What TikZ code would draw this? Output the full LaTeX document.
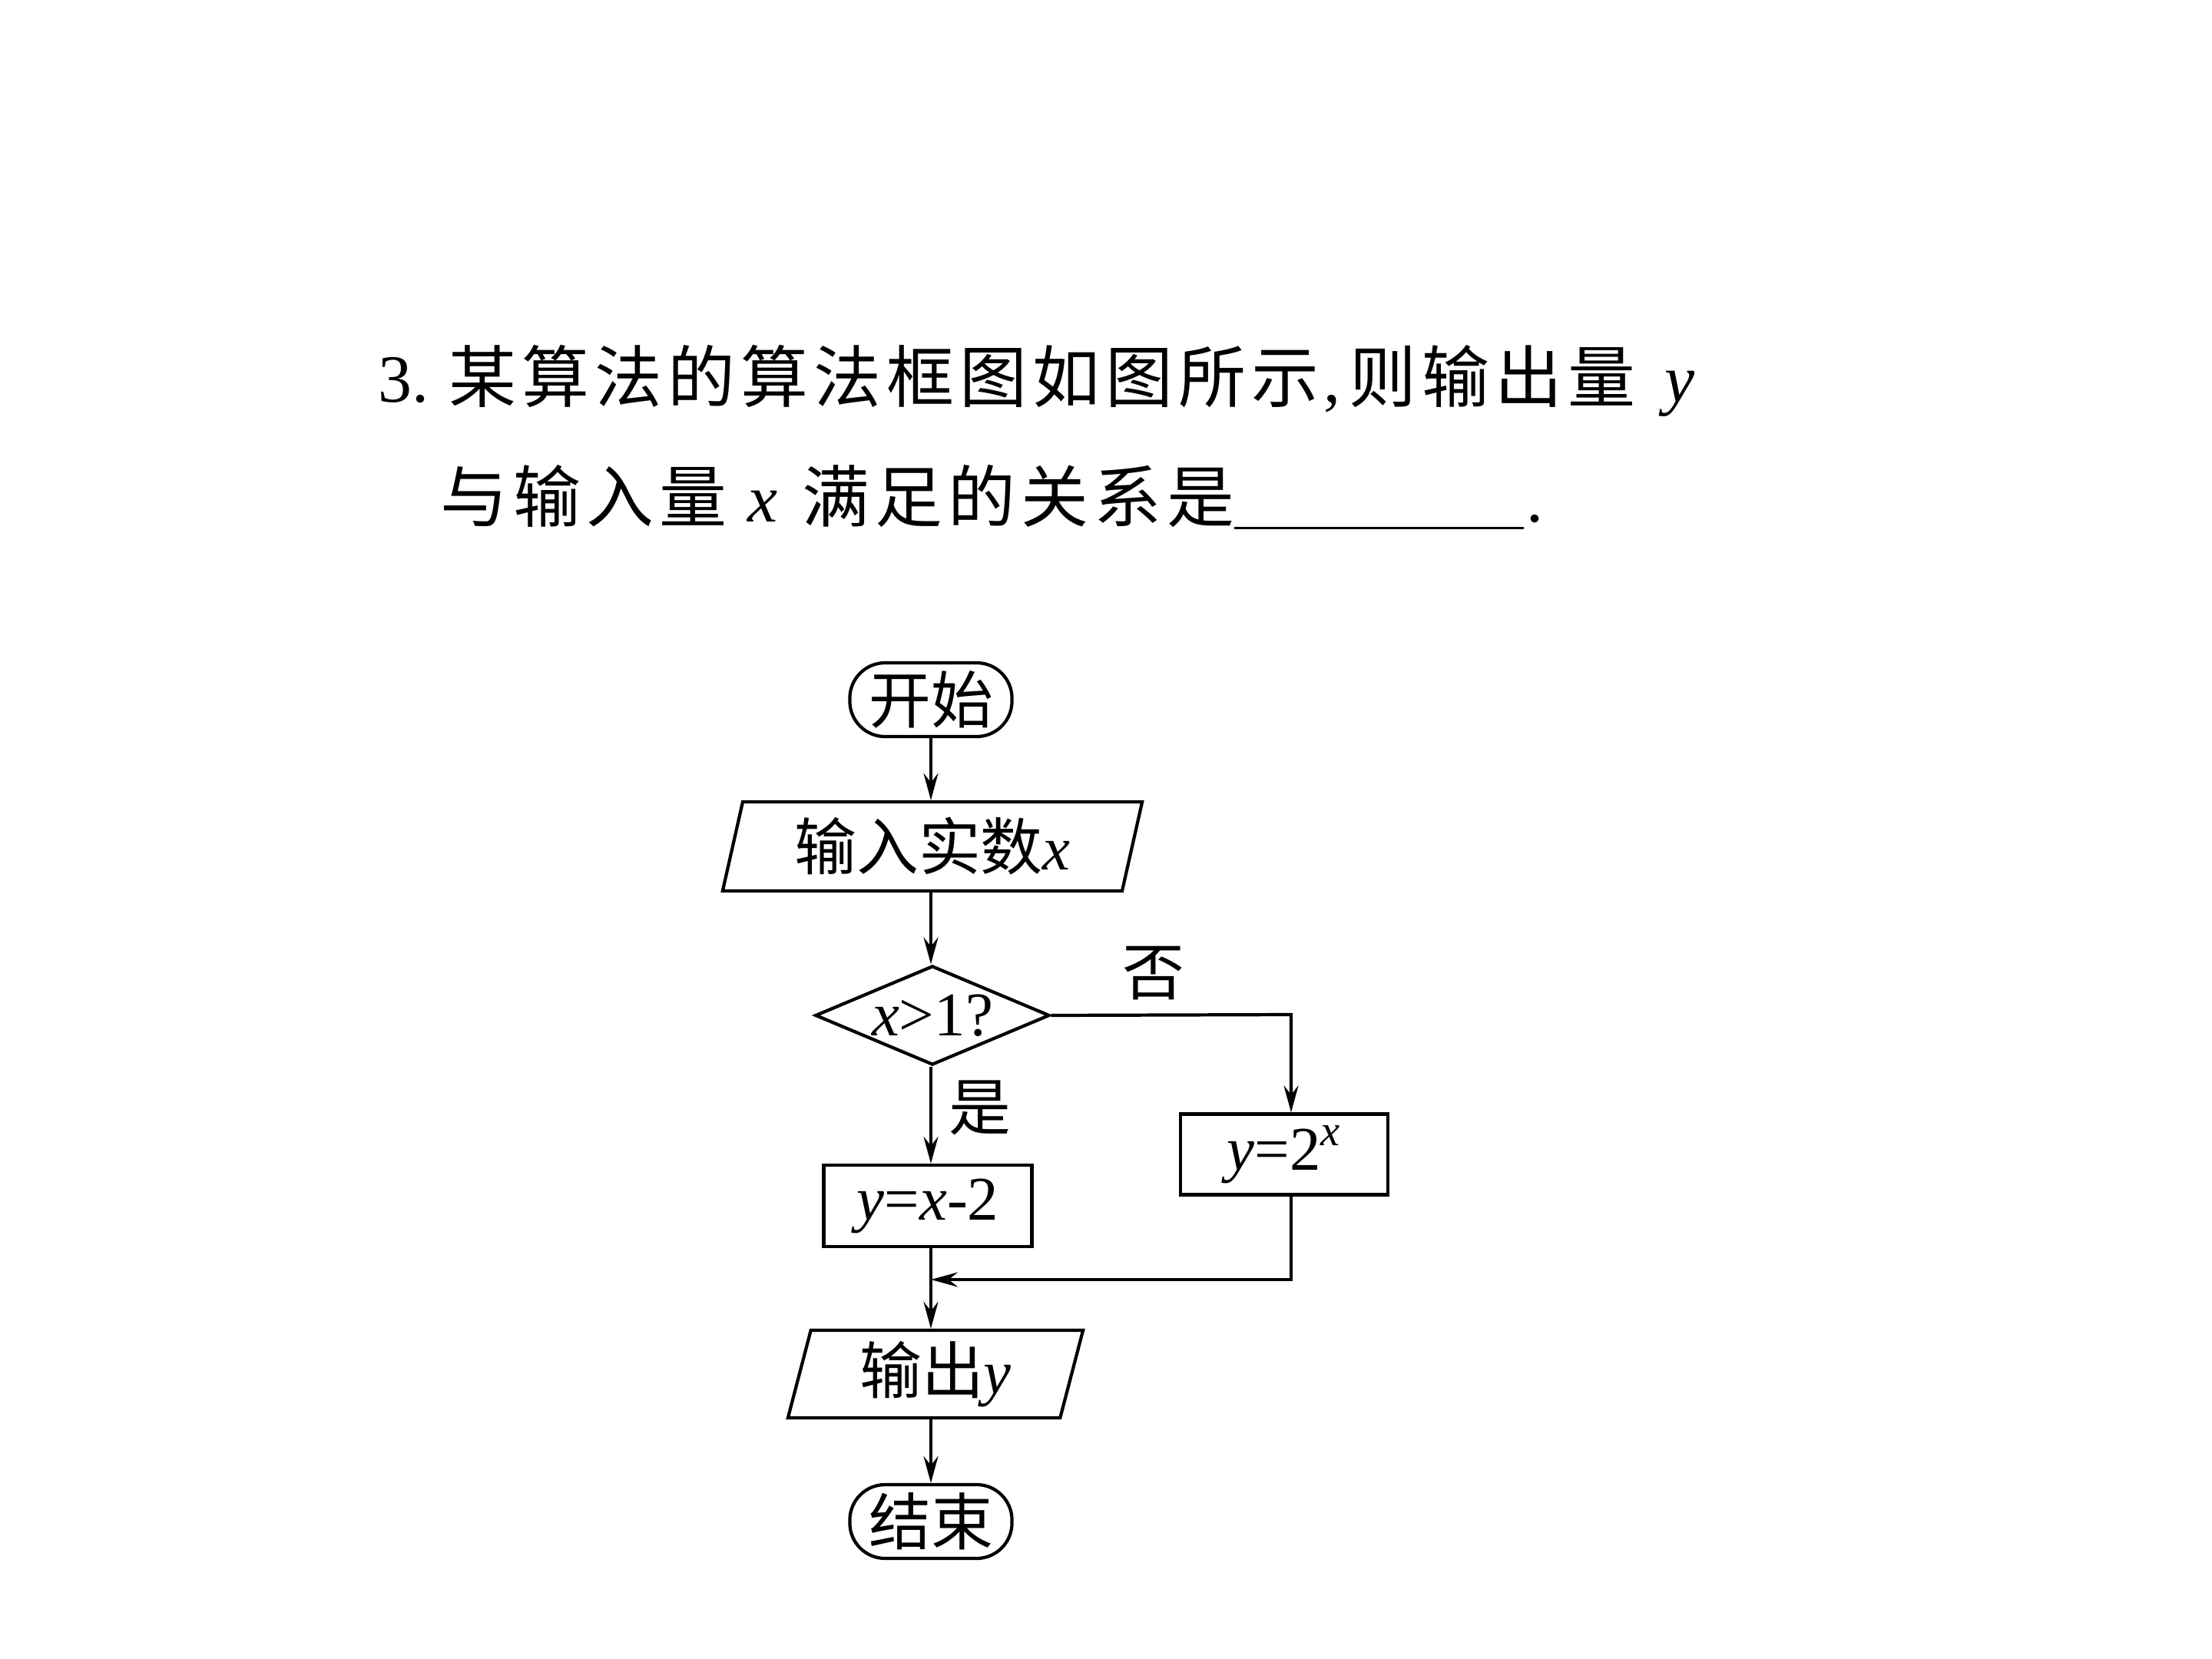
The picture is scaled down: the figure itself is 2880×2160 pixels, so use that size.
\documentclass[tikz,border=0pt]{standalone}
\usepackage{fontspec}
\setmainfont{Liberation Serif}
\newfontfamily\cjk{Noto Sans CJK SC}
\newfontfamily\cjkq[LetterSpace=8]{Noto Sans CJK SC}
\usetikzlibrary{shapes.geometric,arrows.meta}
\tikzset{
  base/.style={draw, line width=1.2pt, inner sep=0pt, font=\fontsize{23pt}{28pt}\selectfont},
  term/.style={base, rectangle, rounded corners=0.46cm, minimum width=2.11cm, minimum height=0.96cm},
  io/.style={base, trapezium, trapezium left angle=70.8, trapezium right angle=109.2, trapezium stretches body, minimum height=1.16cm},
  proc/.style={base, rectangle, minimum width=2.71cm, minimum height=1.06cm},
  dec/.style={base, diamond, aspect=2.36, minimum width=3.05cm, minimum height=1.29cm},
  lbl/.style={font=\fontsize{23pt}{28pt}\selectfont\cjk, inner sep=0pt},
  qtext/.style={font=\fontsize{25pt}{30pt}\selectfont, inner sep=0pt, anchor=west},
  arr/.style={line width=1.2pt, -{Stealth[length=0.35cm, width=0.19cm, inset=0.12cm]}},
  ln/.style={line width=1.2pt}
}
\begin{document}
\begin{tikzpicture}[x=0.01cm, y=-0.01cm]
\useasboundingbox (0,0) rectangle (2880,2160);
\fill[white] (0,0) rectangle (2880,2160);

% question text
\node[qtext] (q1) at (492,496) {3.\hspace{0.26cm}{\cjkq 某算法的算法框图如图所示}\hspace{0.06cm},\hspace{0.12cm}{\cjkq 则输出量}\hspace{0.38cm}\textit{y}};
\node[qtext] (q2) at (573,647) {{\cjkq 与输入量}\hspace{0.27cm}\textit{x}\hspace{0.32cm}{\cjkq 满足的关系是}\rule[-0.1cm]{3.77cm}{1pt}\hspace{0.03cm}.};

% flowchart
\node[term] (start) at (1212,911) {\cjk 开始};
\node[io, minimum width=5.46cm] (inp) at (1214,1102) {{\cjk 输入实数}\textit{x}};
\node[dec] (cond) at (1214,1322) {\textit{x}>1?};
\node[proc] (b1) at (1208,1570) {\textit{y}=\textit{x}-2};
\node[proc, minimum width=2.70cm, minimum height=1.05cm] (b2) at (1672,1503) {\textit{y}=2\textsuperscript{\textit{x}}};
\node[io, minimum width=3.84cm, minimum height=1.14cm] (outp) at (1218,1789) {{\cjk 输出}\textit{y}};
\node[term] (stop) at (1212,1981) {\cjk 结束};

\coordinate (turn) at (1681,1321);
\coordinate (merge) at (1212,1666);

\draw[arr] (start.south) -- (inp.north -| start.south);
\draw[arr] (inp.south -| start.south) -- (cond.north -| start.south);
\draw[arr] (cond.south -| start.south) -- (b1.north -| start.south);
\draw[arr] (cond.east) -- (turn) -- (turn |- b2.north);
\draw[arr] (b1.south -| start.south) -- (outp.north -| start.south);
\draw[arr] (b2.south -| turn) -- (turn |- merge) -- (merge);
\draw[arr] (outp.south -| start.south) -- (stop.north);

\node[lbl] (no) at (1502,1267) {否};
\node[lbl] (yes) at (1276,1442) {是};
\end{tikzpicture}
\end{document}
